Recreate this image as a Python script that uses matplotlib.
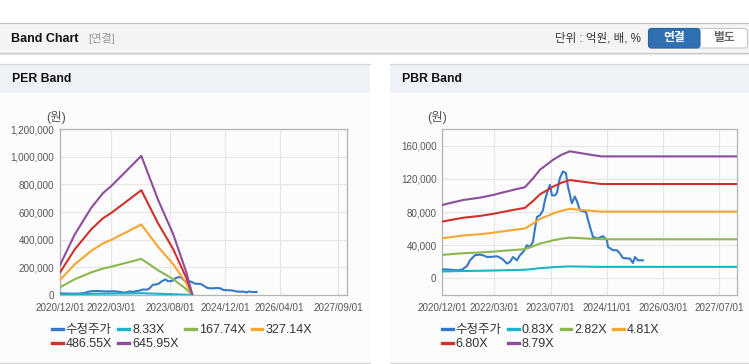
import matplotlib
matplotlib.use('Agg')
from matplotlib import pyplot as plt
from matplotlib.patches import Rectangle, FancyBboxPatch
from matplotlib.lines import Line2D
from matplotlib.ticker import FuncFormatter
import numpy as np
import pandas as pd

W, H = 749, 364
FONT = ['Liberation Sans', 'Noto Sans CJK KR', 'DejaVu Sans']
plt.rcParams['font.family'] = FONT

# 수정주가 (adjusted price), shared by both charts
price_dates = ['2020-12-01', '2021-02-08', '2021-04-10', '2021-05-23', '2021-07-06',
               '2021-08-01', '2021-09-13', '2021-10-27', '2021-11-30', '2021-12-26',
               '2022-02-08', '2022-03-23', '2022-04-18', '2022-05-14', '2022-06-18',
               '2022-07-14', '2022-08-09', '2022-09-12', '2022-10-08', '2022-11-12',
               '2022-12-08', '2023-01-03', '2023-01-29', '2023-02-16', '2023-03-05',
               '2023-03-31', '2023-04-26', '2023-05-13', '2023-05-31', '2023-06-26',
               '2023-07-13', '2023-08-08', '2023-08-25', '2023-09-20', '2023-10-16',
               '2023-11-11', '2023-11-29', '2024-01-02', '2024-01-28', '2024-02-15',
               '2024-03-12', '2024-04-07', '2024-05-03', '2024-06-07', '2024-07-03',
               '2024-08-15', '2024-09-27', '2024-11-01', '2024-11-10', '2024-12-23',
               '2025-01-27', '2025-02-22', '2025-03-20', '2025-05-20', '2025-06-15',
               '2025-07-02', '2025-07-28', '2025-09-09']
price_values = [11000, 10500, 9700, 10500, 14900,
                21800, 27900, 28700, 27500, 25800,
                26000, 26700, 25000, 22700, 17800,
                19800, 25800, 21800, 27900, 33000,
                40000, 37900, 44000, 60000, 74000,
                76000, 82000, 94000, 102700, 112700,
                100000, 100000, 103000, 120800, 128800,
                126900, 110700, 90500, 98500, 93000,
                82000, 81000, 80000, 62000, 50000,
                48000, 50900, 46000, 38000, 34000,
                34000, 30000, 24600, 23800, 18600,
                25800, 21800, 21800]

# EPS behind the PER band
eps_dates = ['2020-12-01', '2021-04-10', '2021-09-04', '2021-12-17', '2022-03-01',
             '2022-06-28', '2022-11-22', '2023-04-18', '2023-09-01', '2023-12-29',
             '2024-02-17']
eps_values = [335, 676, 976, 1140, 1220, 1370, 1557, 1070, 680, 244, 5]
per_multiples = [8.33, 167.74, 327.14, 486.55, 645.95]

# BPS behind the PBR band
bps_dates = ['2020-12-01', '2021-02-23', '2021-06-04', '2021-10-27', '2022-02-19',
             '2022-04-18', '2022-08-11', '2022-11-21', '2023-02-01', '2023-03-31',
             '2023-05-28', '2023-07-24', '2023-10-05', '2023-12-16', '2024-03-12',
             '2024-06-07', '2024-09-16', '2027-12-05']
bps_values = [10050, 10380, 10750, 11070, 11440, 11680, 12130, 12500, 13750, 14890,
              15580, 16270, 16960, 17420, 17190, 16960, 16720, 16720]
pbr_multiples = [0.83, 2.82, 4.81, 6.80, 8.79]

per_xticks = ['2020/12/01', '2022/03/01', '2023/08/01', '2024/12/01', '2026/04/01', '2027/09/01']
pbr_xticks = ['2020/12/01', '2022/03/01', '2023/07/01', '2024/11/01', '2026/03/01', '2027/07/01']
per_yticks = [0, 200000, 400000, 600000, 800000, 1000000, 1200000]
pbr_yticks = [0, 40000, 80000, 120000, 160000]

price_color = '#3479c8'
band_colors = ['#1db3c9', '#8cb650', '#f5a62e', '#d1302b', '#8d4d9b']


def axes_rect(left, top, right, bottom):
    return [left / W, 1 - bottom / H, (right - left) / W, (bottom - top) / H]


fig = plt.figure(figsize=(W / 100, H / 100), dpi=100)

# page decoration in pixel coordinates
bg = fig.add_axes([0, 0, 1, 1], zorder=-5)
bg.set_xlim(0, W)
bg.set_ylim(H, 0)
bg.axis('off')
bg.add_patch(Rectangle((0, 22.5), W, 30.5, fc='#f4f4f4', ec='none'))
bg.plot([0, W], [22.5, 22.5], color='#bdbdbd', lw=0.9)
bg.plot([0, W], [53, 53], color='#c4c4c4', lw=0.9)
bg.plot([0, W], [54, 54], color='#e6e6e6', lw=0.9)
bg.text(11, 38.5, 'Band Chart', fontsize=9, fontweight='bold', color='#111111', va='center')
bg.text(88, 38.5, '[연결]', fontsize=8, color='#999999', va='center')
bg.text(641, 38.5, '단위 : 억원, 배, %', fontsize=8.3, color='#333333', va='center', ha='right')
bg.add_patch(FancyBboxPatch((648.5, 28.5), 99, 19.5, boxstyle='round,pad=0,rounding_size=3',
                            fc='white', ec='#c6c6c6', lw=0.8))
bg.add_patch(FancyBboxPatch((648.5, 28.5), 51.5, 19.5, boxstyle='round,pad=0,rounding_size=3',
                            fc='#2f70b3', ec='#2a63a0', lw=0.8))
bg.text(674, 38.5, '연결', fontsize=8.5, fontweight='bold', color='white', va='center', ha='center')
bg.text(724, 38.5, '별도', fontsize=8.5, fontweight='bold', color='#666666', va='center', ha='center')

for x0, x1, title in [(0, 370, 'PER Band'), (390, W, 'PBR Band')]:
    bg.add_patch(Rectangle((x0, 92.5), x1 - x0, 270.5, fc='#fcfcfd', ec='none'))
    bg.add_patch(Rectangle((x0, 64), x1 - x0, 28.5, fc='#eef2f7', ec='none'))
    bg.plot([x0, x1], [64, 64], color='#d6d6d6', lw=0.9)
    bg.plot([x0, x1], [363, 363], color='#d0d0d0', lw=0.9)
    bg.text(x0 + 11.5, 79.5, title, fontsize=8.8, fontweight='bold', color='#111111', va='center')

bg.text(56, 118, '(원)', fontsize=9, color='#555555', va='center', ha='center')
bg.text(437.5, 118, '(원)', fontsize=9, color='#555555', va='center', ha='center')


def draw_band(rect, base_dates, base_values, multiples, label_fmt, xticks, yticks,
              ylim, xend, legend_x):
    ax = fig.add_axes(rect)
    ax.set_facecolor('none')
    pd_dates = pd.to_datetime(price_dates)
    ax.plot(pd_dates, price_values, color=price_color, lw=1.5, zorder=3)
    b_dates = pd.to_datetime(base_dates)
    handles = [Line2D([], [], color=price_color, lw=2.4)]
    labels = ['수정주가']
    for m, c in zip(multiples, band_colors):
        ax.plot(b_dates, [m * v for v in base_values], color=c, lw=1.5, zorder=3)
        handles.append(Line2D([], [], color=c, lw=2.4))
        labels.append(label_fmt.format(m))
    ax.set_xlim(pd.Timestamp('2020-12-01'), pd.Timestamp(xend))
    ax.set_ylim(*ylim)
    ax.set_xticks(pd.to_datetime(xticks, format='%Y/%m/%d'))
    ax.set_xticklabels(xticks)
    ax.set_yticks(yticks)
    ax.yaxis.set_major_formatter(FuncFormatter(lambda v, p: f'{v:,.0f}'))
    ax.grid(True, color='#e6e6e6', lw=0.8)
    ax.set_axisbelow(True)
    for s in ax.spines.values():
        s.set_color('#b4b4b4')
        s.set_linewidth(0.9)
    ax.tick_params(axis='both', length=0, labelsize=7.1, colors='#555555')
    ax.tick_params(axis='x', pad=6)
    ax.tick_params(axis='y', pad=4)
    # legend fills column by column, so order gives rows as in the original
    order = [0, 4, 1, 5, 2, 3]
    ax.legend([handles[i] for i in order], [labels[i] for i in order], ncol=4,
              loc='upper left', bbox_to_anchor=(legend_x / W, 1 - 324 / H),
              bbox_transform=fig.transFigure, frameon=False, fontsize=9,
              handlelength=0.85, handletextpad=0.25, columnspacing=0.5,
              borderpad=0, borderaxespad=0, labelspacing=0.15,
              labelcolor='#333333')
    return ax


draw_band(axes_rect(60, 129, 347, 295), eps_dates, eps_values, per_multiples, '{:.2f}X',
          per_xticks, per_yticks, (0, 1200000), '2027-11-20', 52)
draw_band(axes_rect(442, 129, 737, 295), bps_dates, bps_values, pbr_multiples, '{:.2f}X',
          pbr_xticks, pbr_yticks, (-20000, 180000), '2027-12-05', 442)

fig.savefig('out.png', dpi=100)
